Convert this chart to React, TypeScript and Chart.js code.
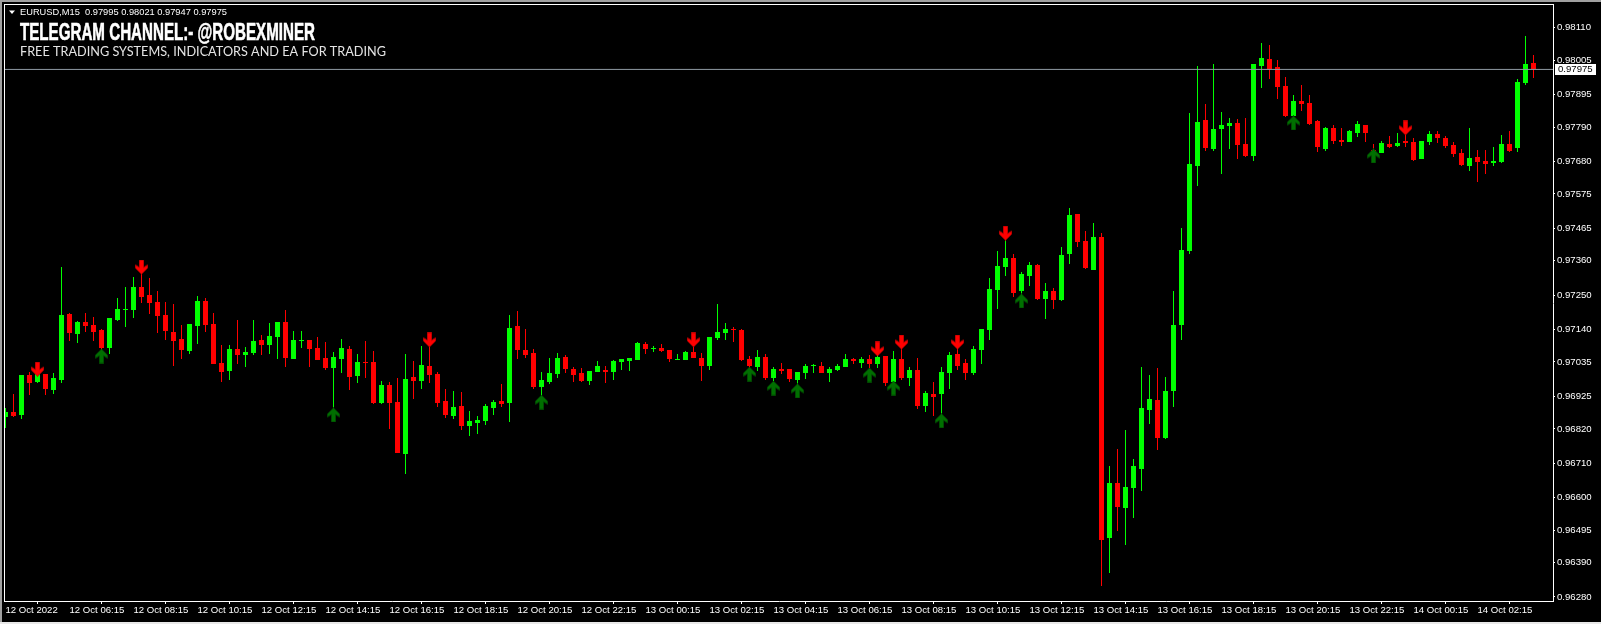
import React, { useEffect, useRef } from "react";
import { Chart, registerables } from "chart.js";

Chart.register(...registerables);

// Prices are in points (1 point = 0.00001)
const opens = [
  96859,96875,96865,96993,96971,96996,96945,96977,97189,97125,
  97163,97154,97138,97080,97170,97202,97202,97276,97250,97228,
  97186,97131,97109,97070,97151,97231,97157,97031,97006,97077,
  97057,97063,97106,97090,97115,97163,97044,97102,97106,97080,
  97047,97015,97044,97077,96990,97035,97035,96903,96961,96907,
  96739,96987,96974,97022,96996,96910,96862,96894,96830,96839,
  96846,96887,96910,96903,97151,97073,97063,96955,96971,96996,
  97051,97012,96999,96974,97003,97009,97003,97035,97038,97041,
  97093,97077,97080,97073,97041,97041,97067,97047,97022,97112,
  97128,97141,97138,97044,97019,97051,96983,97012,97012,96977,
  96999,97022,97022,96999,97009,97019,97044,97031,97044,97028,
  97054,96971,97044,96983,97009,96894,96932,96932,96999,97060,
  97031,96999,97073,97138,97266,97340,97369,97263,97311,97346,
  97237,97263,97234,97382,97510,97423,97330,97436,96469,96646,
  96565,96630,96691,96881,96913,96791,96942,97154,97391,97665,
  97813,97719,97784,97793,97803,97735,97697,97986,98008,97983,
  97922,97825,97873,97867,97809,97719,97787,97748,97742,97771,
  97796,97716,97706,97735,97729,97745,97742,97687,97742,97768,
  97755,97732,97706,97665,97694,97681,97674,97678,97735,97723,97931,97995,
];
const highs = [
  96887,96932,96993,97003,97009,96996,96999,97340,97192,97167,
  97192,97179,97141,97176,97240,97276,97308,97321,97305,97263,
  97228,97221,97154,97157,97247,97240,97192,97090,97090,97170,
  97083,97170,97122,97160,97163,97202,97135,97135,97106,97115,
  97099,97067,97109,97086,97060,97102,97070,96974,96971,96983,
  97060,97038,97086,97083,97003,96948,96942,96939,96878,96862,
  96900,96913,96964,97186,97199,97141,97077,97003,97047,97063,
  97057,97019,97015,97006,97038,97022,97041,97044,97047,97099,
  97099,97086,97093,97073,97060,97070,97083,97063,97115,97221,
  97160,97147,97141,97054,97073,97060,97019,97031,97012,97003,
  97028,97028,97035,97019,97028,97060,97047,97051,97057,97057,
  97054,97070,97080,97019,97047,96942,96971,97019,97067,97080,
  97044,97086,97141,97305,97391,97430,97382,97324,97356,97350,
  97289,97273,97404,97530,97510,97456,97481,97449,96701,96755,
  96816,96723,97019,96993,97015,96987,97263,97465,97835,97986,
  97864,97992,97838,97819,97816,97819,97992,98060,98053,98005,
  97951,97893,97925,97893,97813,97790,97796,97787,97780,97809,
  97796,97735,97745,97761,97771,97764,97755,97745,97777,97777,
  97761,97742,97719,97787,97716,97716,97726,97764,97777,97944,98082,98021,
];
const lows = [
  96823,96859,96852,96929,96967,96929,96932,96967,97102,97096,
  97131,97102,97073,97060,97167,97147,97176,97224,97189,97128,
  97106,97022,97044,97060,97093,97131,97028,96971,96977,97028,
  97019,97057,97057,97060,97044,97019,97044,97080,97019,97041,
  97009,96884,96999,96945,96967,96983,96900,96900,96820,96742,
  96675,96916,96948,96967,96891,96855,96852,96816,96797,96804,
  96833,96865,96891,96843,97044,97047,96948,96926,96964,96983,
  96999,96971,96971,96961,97003,96967,96977,97009,97006,97041,
  97060,97067,97067,97035,97041,97041,97047,96974,97009,97106,
  97106,97099,97038,97015,97006,96977,96974,96996,96971,96961,
  96980,96999,96999,96971,97006,97019,97028,97015,97015,97015,
  96958,96971,96977,96958,96884,96875,96862,96865,96948,97009,
  96977,96993,97028,97106,97205,97311,97244,97250,97279,97234,
  97173,97205,97231,97350,97404,97334,97330,96315,96357,96492,
  96447,96534,96620,96836,96752,96787,96891,97106,97382,97600,
  97713,97713,97639,97719,97687,97694,97681,97915,97944,97880,
  97822,97825,97841,97796,97710,97713,97735,97729,97742,97758,
  97742,97700,97706,97723,97726,97726,97681,97687,97732,97739,
  97723,97694,97665,97649,97613,97639,97665,97674,97710,97710,97925,97947,
];
const closes = [
  96875,96862,96993,96967,96996,96948,96983,97186,97128,97163,
  97151,97131,97080,97176,97205,97205,97276,97244,97224,97183,
  97135,97102,97073,97157,97231,97154,97028,97003,97077,97057,
  97067,97102,97090,97119,97163,97047,97106,97106,97077,97041,
  97015,97051,97080,96987,97035,97031,96903,96961,96903,96742,
  96980,96974,97025,96993,96903,96865,96891,96830,96846,96849,
  96894,96907,96900,97144,97073,97057,96955,96977,96999,97047,
  97012,96993,96974,97006,97022,97003,97038,97044,97047,97096,
  97077,97080,97070,97044,97044,97067,97047,97022,97115,97131,
  97141,97138,97041,97022,97051,96983,97012,97006,96980,97003,
  97022,97025,96999,97012,97022,97044,97038,97044,97028,97051,
  96967,97044,96983,97009,96894,96935,96923,97003,97057,97022,
  96999,97077,97141,97269,97343,97369,97256,97318,97346,97237,
  97263,97234,97379,97507,97420,97337,97436,96463,96646,96569,
  96633,96701,96887,96916,96791,96942,97154,97394,97671,97806,
  97723,97784,97796,97803,97732,97697,97992,98012,97976,97918,
  97825,97873,97864,97800,97726,97787,97745,97742,97777,97800,
  97771,97706,97739,97726,97739,97739,97684,97745,97768,97755,
  97729,97703,97668,97690,97678,97671,97681,97735,97713,97935,97992,97975,
];

const upArrowBars = [12, 41, 67, 93, 96, 99, 108, 111, 117, 127, 161, 171];
const upArrowPrices = [97054, 96865, 96906, 96996, 96951, 96942, 96993, 96951, 96846, 97231, 97803, 97697];
const downArrowBars = [4, 17, 53, 86, 109, 112, 119, 125, 175];
const downArrowPrices = [97012, 97340, 97106, 97106, 97077, 97099, 97099, 97449, 97787];

const lastPrice = 97975;
const priceTicks = [
  98110, 98005, 97895, 97790, 97680, 97575, 97465, 97360, 97250,
  97140, 97035, 96925, 96820, 96710, 96600, 96495, 96390, 96280,
];
const timeTickBars = [0, 8, 16, 24, 32, 40, 48, 56, 64, 72, 80, 88, 96, 104, 112, 120, 128, 136, 144, 152, 160, 168, 176, 184];
const timeTickLabels = [
  "12 Oct 2022", "12 Oct 06:15", "12 Oct 08:15", "12 Oct 10:15", "12 Oct 12:15", "12 Oct 14:15",
  "12 Oct 16:15", "12 Oct 18:15", "12 Oct 20:15", "12 Oct 22:15", "13 Oct 00:15", "13 Oct 02:15",
  "13 Oct 04:15", "13 Oct 06:15", "13 Oct 08:15", "13 Oct 10:15", "13 Oct 12:15", "13 Oct 14:15",
  "13 Oct 16:15", "13 Oct 18:15", "13 Oct 20:15", "13 Oct 22:15", "14 Oct 00:15", "14 Oct 02:15",
];
const headerText = "EURUSD,M15  0.97995 0.98021 0.97947 0.97975";
const titleText = "TELEGRAM CHANNEL:- @ROBEXMINER";
const subtitleText = "FREE TRADING SYSTEMS, INDICATORS AND EA FOR TRADING";

const GREEN = "#00ff00";
const RED = "#ff0000";
const AXIS_FONT = '"Liberation Sans"';
const AXIS_SIZE = 9.6;
const fmt = (p: number) => (p / 100000).toFixed(5);

function makeArrow(up: boolean, fill: string, edge: string) {
  const c = document.createElement("canvas");
  c.width = 13;
  c.height = 15;
  const g = c.getContext("2d")!;
  g.save();
  if (!up) {
    g.translate(0, 15);
    g.scale(1, -1);
  }
  g.beginPath();
  g.moveTo(6.5, 0.5);
  g.lineTo(12.5, 6.5);
  g.lineTo(12.5, 9.5);
  g.lineTo(8.5, 7);
  g.lineTo(8.5, 14.5);
  g.lineTo(4.5, 14.5);
  g.lineTo(4.5, 7);
  g.lineTo(0.5, 9.5);
  g.lineTo(0.5, 6.5);
  g.closePath();
  g.fillStyle = fill;
  g.fill();
  g.strokeStyle = edge;
  g.lineWidth = 1;
  g.stroke();
  g.restore();
  return c;
}

const noAutoPadding = (s: any) => {
  s.paddingTop = 0;
  s.paddingBottom = 0;
  s.paddingLeft = 0;
  s.paddingRight = 0;
};

const framePlugin = {
  id: "mt4Frame",
  beforeDraw(chart: any) {
    const { ctx, width, height } = chart;
    ctx.save();
    ctx.fillStyle = "#000";
    ctx.fillRect(0, 0, width, height);
    ctx.fillStyle = "#a0a0a0";
    ctx.fillRect(0, 0, width, 2);
    ctx.fillRect(0, 0, 2, height);
    ctx.fillStyle = "#e8e8e8";
    ctx.fillRect(0, height - 2, width, 2);
    ctx.restore();
  },
  afterDatasetsUpdate(chart: any) {
    // snap the candles to whole pixels, as the terminal draws them
    chart.data.datasets.forEach((ds: any, i: number) => {
      if (ds.type !== "bar") return;
      chart.getDatasetMeta(i).data.forEach((el: any) => {
        el.y = Math.round(el.y);
        el.base = Math.round(el.base);
        if (el.y === el.base) el.base = el.y + 1;
      });
    });
  },
  afterDraw(chart: any) {
    const { ctx, chartArea, scales } = chart;
    ctx.save();
    ctx.fillStyle = "#fff";
    ctx.fillRect(4, 4, chartArea.right - 3, 1);
    ctx.fillRect(4, 4, 1, chartArea.bottom - 3);

    // header triangle
    ctx.beginPath();
    ctx.moveTo(9, 10.5);
    ctx.lineTo(15, 10.5);
    ctx.lineTo(12, 14);
    ctx.closePath();
    ctx.fill();

    ctx.textBaseline = "middle";
    ctx.textAlign = "left";
    ctx.font = `9.5px ${AXIS_FONT}`;
    ctx.fillText(headerText, 20, 12.5, 207);

    ctx.font = 'bold 24px "Liberation Sans"';
    ctx.strokeStyle = "#fff";
    ctx.lineWidth = 0.6;
    ctx.fillText(titleText, 20, 33, 295);
    ctx.strokeText(titleText, 20, 33, 295);

    ctx.font = "13px Lato";
    ctx.fillStyle = "#e4e4e4";
    ctx.fillText(subtitleText, 20, 51.5, 366);

    // last price tag
    const y = scales.y.getPixelForValue(lastPrice);
    ctx.fillStyle = "#fff";
    ctx.fillRect(chartArea.right + 2, Math.round(y) - 5, 41, 11);
    ctx.fillStyle = "#000";
    ctx.font = `${AXIS_SIZE}px ${AXIS_FONT}`;
    ctx.fillText(fmt(lastPrice), chartArea.right + 5, Math.round(y) + 0.5);
    ctx.restore();
  },
};

export default function App() {
  const ref = useRef<HTMLCanvasElement>(null);

  useEffect(() => {
    document.body.style.margin = "0";
    document.body.style.background = "#000";
    const wickData = lows.map((l, i) => ({ x: i, y: [l, highs[i]] }));
    const bodyData = opens.map((o, i) => ({ x: i, y: [o, closes[i]] }));
    const colors = opens.map((o, i) => (closes[i] >= o ? GREEN : RED));
    const barRange = { min: -0.0625, max: 193.4375 };

    const chart = new Chart(ref.current!, {
      type: "bar",
      data: {
        datasets: [
          {
            type: "bar",
            data: wickData,
            backgroundColor: colors,
            barThickness: 1,
            grouped: false,
            inflateAmount: 0,
            order: 4,
          },
          {
            type: "bar",
            data: bodyData,
            backgroundColor: colors,
            barThickness: 5,
            grouped: false,
            inflateAmount: 0,
            order: 3,
          },
          {
            type: "line",
            data: [
              { x: barRange.min, y: lastPrice },
              { x: barRange.max, y: lastPrice },
            ],
            borderColor: "#8f9aa3",
            borderWidth: 1,
            pointRadius: 0,
            order: 2,
          },
          {
            type: "scatter",
            data: upArrowBars.map((b, i) => ({ x: b, y: upArrowPrices[i] })),
            pointStyle: makeArrow(true, "#006f00", "#004a00"),
            pointRadius: 7,
            order: 1,
          },
          {
            type: "scatter",
            data: downArrowBars.map((b, i) => ({ x: b, y: downArrowPrices[i] })),
            pointStyle: makeArrow(false, "#ff0000", "#c00000"),
            pointRadius: 7,
            order: 0,
          },
        ],
      } as any,
      options: {
        responsive: false,
        animation: false,
        layout: { autoPadding: false, padding: { left: 5, top: 5, right: 0, bottom: 0 } },
        plugins: { legend: { display: false }, tooltip: { enabled: false }, title: { display: false } },
        scales: {
          x: {
            type: "linear",
            offset: false,
            min: barRange.min,
            max: barRange.max,
            grid: { drawOnChartArea: false, drawTicks: true, tickLength: 3, tickColor: "#fff", color: "#fff" },
            border: { display: true, color: "#fff", width: 1 },
            afterBuildTicks: (s: any) => {
              s.ticks = timeTickBars.map((v) => ({ value: v }));
            },
            afterFit: (s: any) => {
              s.height = 23;
              noAutoPadding(s);
            },
            ticks: {
              autoSkip: false,
              maxRotation: 0,
              minRotation: 0,
              align: "start",
              padding: 1,
              color: "#fff",
              font: { family: "Liberation Sans", size: AXIS_SIZE },
              callback: (_v: any, i: number) => timeTickLabels[i],
            },
          },
          y: {
            type: "linear",
            position: "right",
            min: 96267,
            max: 98182,
            grid: { drawOnChartArea: false, drawTicks: true, tickLength: 2, tickColor: "#fff", color: "#fff" },
            border: { display: true, color: "#fff", width: 1 },
            afterBuildTicks: (s: any) => {
              s.ticks = priceTicks.map((v) => ({ value: v }));
            },
            afterFit: (s: any) => {
              s.width = 48;
              noAutoPadding(s);
            },
            ticks: {
              autoSkip: false,
              padding: 2,
              color: "#fff",
              font: { family: "Liberation Sans", size: AXIS_SIZE },
              callback: (v: any) => fmt(Number(v)),
            },
          },
        },
      },
      plugins: [framePlugin],
    } as any);
    return () => chart.destroy();
  }, []);

  return <canvas ref={ref} width={1601} height={624} style={{ display: "block" }} />;
}
